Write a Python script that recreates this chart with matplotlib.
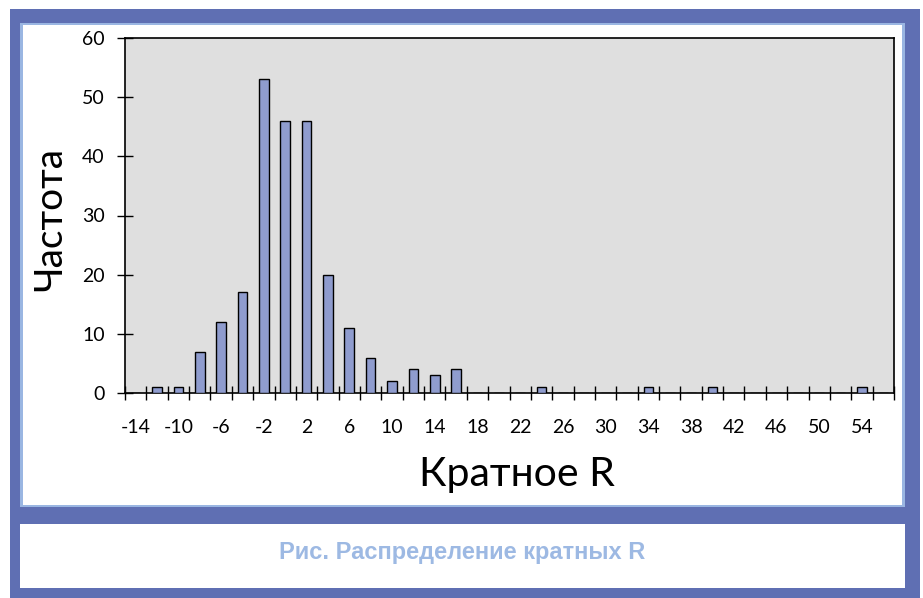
import numpy as np
import matplotlib
matplotlib.use("Agg")
import matplotlib.pyplot as plt
from matplotlib.patches import Rectangle

# categories (Кратное R) and their frequencies
categories = [-14, -12, -10, -8, -6, -4, -2, 0, 2, 4, 6, 8, 10, 12, 14, 16, 18, 20,
              22, 24, 26, 28, 30, 32, 34, 36, 38, 40, 42, 44, 46, 48, 50, 52, 54, 56]
counts = [0, 1, 1, 7, 12, 17, 53, 46, 46, 20, 11, 6, 2, 4, 3, 4, 0, 0,
          0, 1, 0, 0, 0, 0, 1, 0, 0, 1, 0, 0, 0, 0, 0, 0, 1, 0]
label_cats = [-14, -10, -6, -2, 2, 6, 10, 14, 18, 22, 26, 30, 34, 38, 42, 46, 50, 54]
yticks = [0, 10, 20, 30, 40, 50, 60]

W, H = 923, 598
BLUE = "#5F6FB3"
LIGHT = "#9AB6E2"
CAPTION = "#9DB9E3"
BAR = "#8F9CCE"
BG = "#DFDFDF"
FONT = "Lato"

fig = plt.figure(figsize=(W / 100, H / 100), dpi=100)
fig.patch.set_facecolor("white")


def rect(x, y, w, h, **kw):
    # pixel box (top-left origin) -> figure rectangle
    fig.patches.append(Rectangle((x / W, 1 - (y + h) / H), w / W, h / H,
                                 transform=fig.transFigure, zorder=-5, **kw))


rect(10, 9, 910, 589, facecolor=BLUE, edgecolor="none")
rect(20, 23, 885, 484, facecolor=LIGHT, edgecolor="none")
rect(23, 25, 879, 480, facecolor="white", edgecolor="none")
rect(20, 524, 885, 64, facecolor="white", edgecolor="none")

left, right, top, bottom = 125, 894, 38, 393
ax = fig.add_axes([left / W, 1 - bottom / H, (right - left) / W, (bottom - top) / H])
ax.set_zorder(5)
ax.set_facecolor(BG)

x = np.arange(len(categories))
ax.bar(x, counts, width=0.45, color=BAR, edgecolor="black", linewidth=1.0, zorder=3)

ax.set_xlim(-0.5, len(categories) - 0.5)
ax.set_ylim(0, 60)

# tick marks on category boundaries, labels at category centres
ax.set_xticks(np.arange(len(categories) + 1) - 0.5)
ax.set_xticklabels([])
lab_pos = [categories.index(c) for c in label_cats]
ax.set_xticks(lab_pos, minor=True)
ax.set_xticklabels([str(c) for c in label_cats], minor=True, fontsize=14, family=FONT)
ax.tick_params(axis="x", which="major", direction="inout", length=9.5, width=1)
ax.tick_params(axis="x", which="minor", length=0, pad=19)

ax.set_yticks(yticks)
ax.set_yticklabels([str(v) for v in yticks], fontsize=14, family=FONT)
ax.tick_params(axis="y", direction="inout", length=11, width=1, pad=9)

for s in ax.spines.values():
    s.set_linewidth(1.2)
    s.set_color("black")

ax.set_xlabel("Кратное R", fontsize=29.5, family=FONT)
ax.xaxis.set_label_coords(0.51, -0.178)
ax.set_ylabel("Частота", fontsize=28, family=FONT)
ax.yaxis.set_label_coords(-0.074, 0.49)

fig.text(462 / W, 1 - 553 / H, "Рис. Распределение кратных R", ha="center", va="center",
         fontsize=17, fontweight="bold", color=CAPTION, family="Liberation Sans", zorder=6)

fig.savefig("out.png", dpi=100)
